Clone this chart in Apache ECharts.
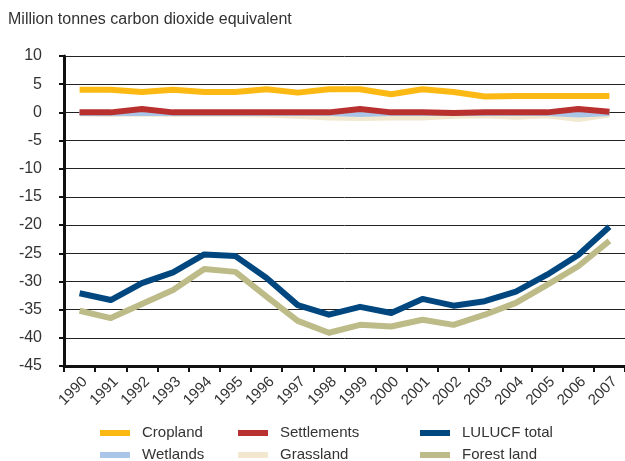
<!DOCTYPE html>
<html>
<head>
<meta charset="utf-8">
<script src="https://cdn.jsdelivr.net/npm/echarts@6/dist/echarts.min.js"></script>
<style>
  html, body { margin: 0; padding: 0; background: #fff; }
  #chart { width: 625px; height: 461px; }
</style>
</head>
<body>
<div id="chart"></div>
<script>
// Years on the category axis
const years = ['1990','1991','1992','1993','1994','1995','1996','1997','1998',
               '1999','2000','2001','2002','2003','2004','2005','2006','2007'];

// Net emissions by land-use category (Mt CO2 equivalent)
const cropland    = [4.0, 4.0, 3.6, 4.0, 3.6, 3.6, 4.1, 3.5, 4.1, 4.1, 3.2, 4.1, 3.6, 2.8, 2.9, 2.9, 2.9, 2.9];
const settlements = [0.0, 0.0, 0.6, 0.0, 0.0, 0.0, 0.0, 0.0, 0.0, 0.6, 0.0, 0.0, -0.1, 0.0, 0.0, 0.0, 0.6, 0.1];
const wetlands    = [-0.1, -0.1, -0.1, -0.1, -0.1, -0.1, -0.1, -0.1, -0.1, -0.3, -0.1, -0.1, -0.1, -0.1, -0.1, -0.1, -0.4, -0.1];
const grassland   = [-0.2, -0.3, -0.2, -0.3, -0.3, -0.3, -0.4, -0.6, -0.9, -1.0, -0.9, -0.9, -0.6, -0.5, -0.8, -0.5, -1.2, -0.4];
const lulucfTotal = [-32.1, -33.3, -30.3, -28.4, -25.2, -25.5, -29.4, -34.2, -35.9, -34.5, -35.6, -33.1, -34.3, -33.5, -31.8, -28.8, -25.3, -20.3];
const forestLand  = [-35.2, -36.5, -34.0, -31.5, -27.8, -28.3, -32.7, -37.0, -39.1, -37.7, -38.0, -36.8, -37.7, -35.9, -33.8, -30.6, -27.3, -22.8];

// Value axis range
const yMin = -45, yMax = 10, yStep = 5;

const colors = {
  'Cropland': '#FDB913',
  'Settlements': '#B8312F',
  'LULUCF total': '#00477F',
  'Wetlands': '#A9C6E8',
  'Grassland': '#F2E7CF',
  'Forest land': '#BDBB88'
};

function line(name, data, z) {
  return {
    name: name, type: 'line', data: data, z: z,
    symbol: 'none', smooth: false,
    lineStyle: { width: 6, color: colors[name], cap: 'butt', join: 'round' },
    itemStyle: { color: colors[name] },
    emphasis: { disabled: true }
  };
}

const font = 'Liberation Sans, Arial, sans-serif';
const legendBase = {
  orient: 'vertical', top: 425, height: 60, itemGap: 6,
  icon: 'rect', itemWidth: 30, itemHeight: 6,
  textStyle: { fontSize: 15, color: '#333', fontFamily: font, lineHeight: 16, padding: [0, 0, 0, 7] },
  selectedMode: false, padding: 0
};

const chart = echarts.init(document.getElementById('chart'), null, { renderer: 'canvas' });
chart.setOption({
  animation: false,
  backgroundColor: '#fff',
  title: {
    text: 'Million tonnes carbon dioxide equivalent',
    left: 8, top: 12, padding: 0,
    textStyle: { fontSize: 16, fontWeight: 'normal', color: '#333', fontFamily: font }
  },
  legend: [
    Object.assign({}, legendBase, { left: 100, data: ['Cropland', 'Wetlands'] }),
    Object.assign({}, legendBase, { left: 238, data: ['Settlements', 'Grassland'] }),
    Object.assign({}, legendBase, { left: 420, data: ['LULUCF total', 'Forest land'] })
  ],
  grid: { left: 64, right: -2, top: 56, bottom: 95 },
  xAxis: {
    type: 'category', data: years, boundaryGap: true,
    axisLine: { onZero: false, lineStyle: { color: '#111', width: 3 } },
    axisTick: { show: true, length: 6, lineStyle: { color: '#111', width: 2 } },
    axisLabel: { rotate: 45, fontSize: 15, color: '#333', fontFamily: font, margin: 8, verticalAlign: 'top' },
    splitLine: { show: false }
  },
  yAxis: {
    type: 'value', min: yMin, max: yMax, interval: yStep,
    axisLine: { show: true, lineStyle: { color: '#111', width: 3 } },
    axisTick: { show: true, length: 5, lineStyle: { color: '#111', width: 2 } },
    axisLabel: { fontSize: 16, color: '#333', fontFamily: font, margin: 22 },
    splitLine: { show: true, lineStyle: { color: '#222', width: 1 } }
  },
  series: [
    line('Grassland', grassland, 1),
    line('Wetlands', wetlands, 2),
    line('Cropland', cropland, 3),
    line('Settlements', settlements, 4),
    line('Forest land', forestLand, 5),
    line('LULUCF total', lulucfTotal, 6)
  ]
});
</script>
</body>
</html>
